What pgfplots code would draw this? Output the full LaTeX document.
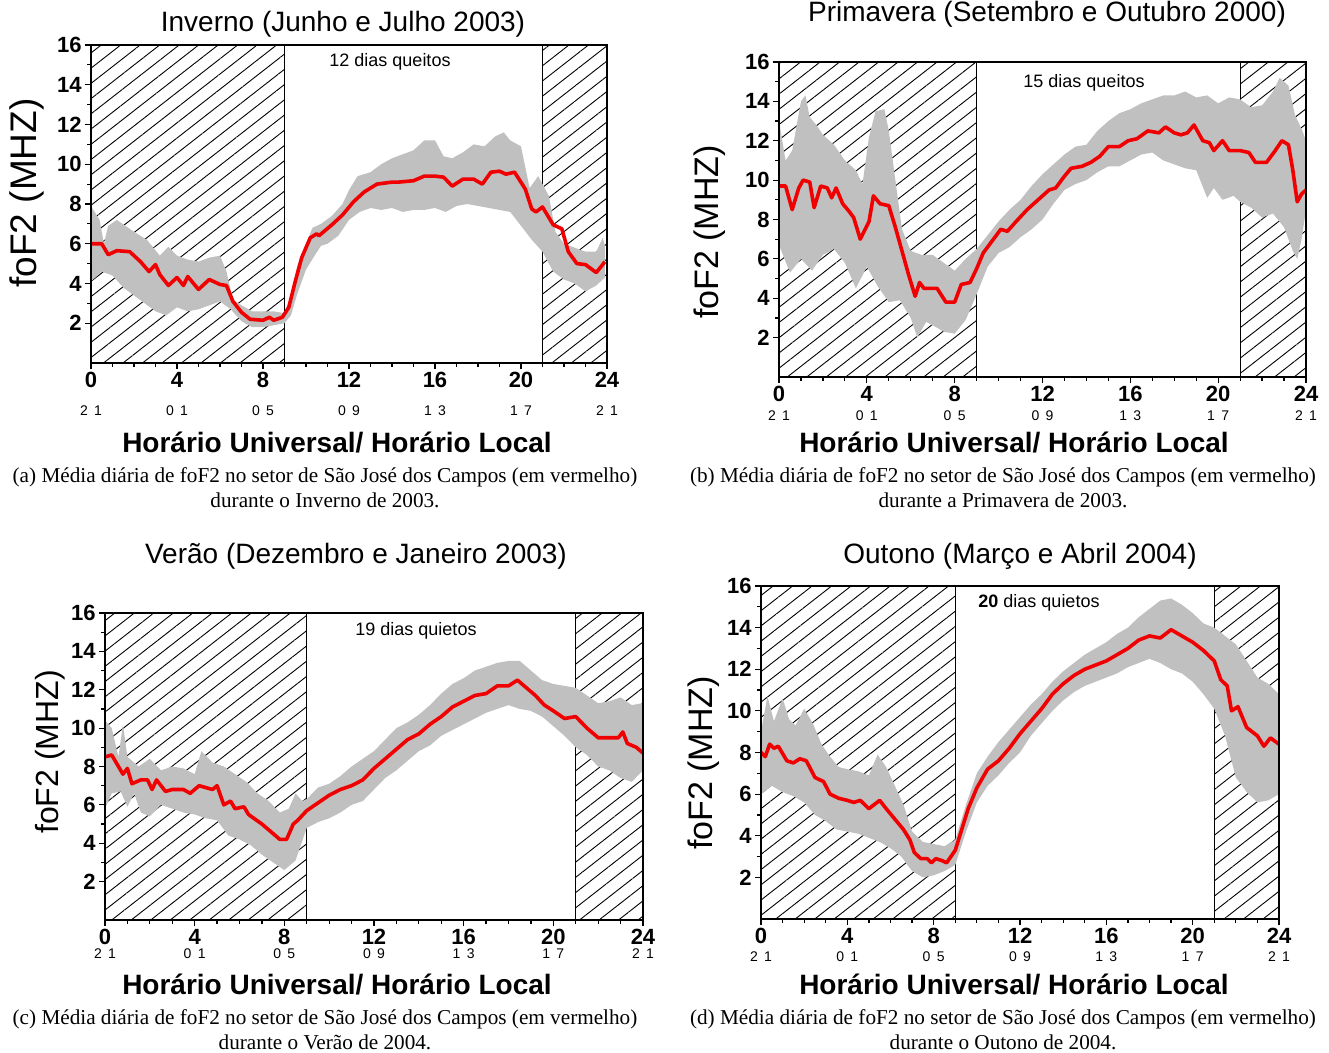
\documentclass[border=0pt]{standalone}
\usepackage{fontspec}
\setmainfont{Liberation Sans}
\newfontfamily\capfont{Liberation Serif}
\usepackage{pgfplots}
\pgfplotsset{compat=1.18}
\usetikzlibrary{patterns.meta}
\definecolor{bandgray}{RGB}{192,192,192}
\definecolor{fred}{RGB}{240,0,0}
\newcommand\lt{\fontsize{7}{8}\selectfont\mdseries}
\pgfplotsset{
 fof/.style={scale only axis, anchor=south west, xmin=0, xmax=24, ymin=0, ymax=16,
   axis on top, tick pos=left, tick align=outside,
   xtick={0,4,...,24}, ytick={2,4,...,16}, minor x tick num=3, minor y tick num=1,
   major tick length=3pt, minor tick length=1.8pt,
   axis line style={line width=0.8pt},
   every tick/.style={black, line width=0.6pt},
   /pgf/number format/assume math mode=true,
   yticklabel style={font=\fontsize{11}{11}\selectfont\bfseries, inner sep=1.5pt},
   xticklabel style={font=\fontsize{11}{11}\selectfont, align=center, inner sep=1.5pt}},
 utlt/.style={xticklabels={
   {\bfseries 0}\\[#1]{\lt 2\hspace{.45em}1},
   {\bfseries 4}\\[#1]{\lt 0\hspace{.45em}1},
   {\bfseries 8}\\[#1]{\lt 0\hspace{.45em}5},
   {\bfseries 12}\\[#1]{\lt 0\hspace{.45em}9},
   {\bfseries 16}\\[#1]{\lt 1\hspace{.45em}3},
   {\bfseries 20}\\[#1]{\lt 1\hspace{.45em}7},
   {\bfseries 24}\\[#1]{\lt 2\hspace{.45em}1}}},
 hatch/.style={draw=black, line width=0.6pt, pattern={Lines[angle=38,distance=6pt,line width=0.45pt]}, pattern color=black},
 band/.style={fill=bandgray, draw=none},
 mean/.style={fred, line width=1.8pt, line join=round}
}
\begin{document}
\begin{tikzpicture}
\useasboundingbox (0,0) rectangle (664.5pt,526.5pt);
% ---------------- (a) Inverno
\begin{axis}[fof, utlt=3pt, at={(45.5pt,345pt)}, width=258pt, height=159pt]
\addplot[hatch] coordinates {(0,0)(9,0)(9,16)(0,16)} -- cycle;
\addplot[hatch] coordinates {(21,0)(24,0)(24,16)(21,16)} -- cycle;
\addplot[band] coordinates {
(0,7.9)(0.4,7.2)(0.6,6.0)(0.8,6.9)(1.2,7.2)(2.0,6.6)(2.6,6.2)(3.2,5.4)(3.6,5.85)(4.0,5.4)(4.5,5.2)(5.0,5.1)(5.5,5.3)(6.0,5.4)(6.3,4.6)(6.6,3.2)(7.0,2.9)(7.5,2.6)(8.0,2.6)(8.5,2.6)(9.0,2.5)(9.3,3.4)(9.6,4.9)(10.0,6.0)(10.3,6.8)(10.7,7.0)(11.2,7.4)(11.7,8.0)(12.0,8.7)(12.4,9.4)(13.0,9.6)(13.5,10.0)(14.0,10.3)(14.5,10.5)(15.0,10.7)(15.5,11.2)(16.0,11.2)(16.4,10.4)(16.8,10.3)(17.3,10.6)(17.8,11.0)(18.3,10.9)(18.8,11.4)(19.2,11.6)(19.5,11.2)(20.0,10.9)(20.4,8.8)(20.8,9.4)(21.0,9.0)(21.3,8.4)(21.6,6.6)(22.0,6.0)(22.5,5.8)(23.0,5.6)(23.5,5.6)(23.8,6.3)(23.9,5.9)
(23.9,4.3)(23.5,3.9)(23.0,3.6)(22.5,4.0)(22.0,4.2)(21.5,4.6)(21.0,5.6)(20.5,6.2)(20.0,6.9)(19.5,7.6)(19.0,7.7)(18.5,7.8)(18.0,7.9)(17.5,8.0)(17.0,7.9)(16.5,7.6)(16.0,7.8)(15.5,7.7)(15.0,7.7)(14.5,7.6)(14.0,7.8)(13.5,7.7)(13.0,7.8)(12.5,7.6)(12.0,7.2)(11.5,6.4)(11.0,6.0)(10.7,5.9)(10.4,5.4)(10.0,4.7)(9.6,3.5)(9.3,2.4)(9.0,2.0)(8.5,1.9)(8.0,1.8)(7.5,1.8)(7.0,2.1)(6.5,2.7)(6.0,3.1)(5.5,2.9)(5.0,2.7)(4.5,2.6)(4.0,2.8)(3.5,2.4)(3.0,2.6)(2.5,3.0)(2.0,3.4)(1.5,3.8)(1.0,4.4)(0.5,4.6)(0,4.1)} -- cycle;
\addplot[mean] coordinates {
(0,6.0)(0.5,6.0)(0.8,5.45)(1.2,5.65)(1.8,5.6)(2.3,5.1)(2.7,4.6)(3.0,4.95)(3.2,4.45)(3.6,3.9)(4.0,4.3)(4.3,3.9)(4.5,4.35)(5.0,3.7)(5.5,4.2)(6.0,3.95)(6.3,3.9)(6.6,3.1)(7.0,2.55)(7.4,2.2)(8.0,2.15)(8.3,2.3)(8.5,2.15)(8.9,2.3)(9.2,2.8)(9.5,4.1)(9.8,5.3)(10.2,6.3)(10.5,6.5)(10.6,6.4)(11.2,6.95)(11.7,7.45)(12.2,8.1)(12.7,8.6)(13.3,9.0)(14.0,9.1)(14.3,9.1)(15.0,9.17)(15.5,9.4)(16.0,9.4)(16.4,9.35)(16.8,8.9)(17.3,9.25)(17.8,9.25)(18.2,9.0)(18.6,9.6)(19.0,9.65)(19.3,9.5)(19.7,9.6)(20.2,8.75)(20.5,7.75)(20.7,7.6)(21.0,7.85)(21.5,6.95)(21.9,6.75)(22.2,5.6)(22.6,5.0)(23.0,4.95)(23.5,4.55)(23.8,4.95)(23.9,5.1)};
\end{axis}
% ---------------- (b) Primavera
\begin{axis}[fof, utlt=-1.5pt, at={(389.5pt,338pt)}, width=263.5pt, height=157.5pt]
\addplot[hatch] coordinates {(0,0)(9,0)(9,16)(0,16)} -- cycle;
\addplot[hatch] coordinates {(21,0)(24,0)(24,16)(21,16)} -- cycle;
\addplot[band] coordinates {
(0,13.0)(0.3,11.0)(0.6,11.5)(1.0,14.0)(1.2,14.3)(1.4,13.2)(1.7,12.8)(2.0,12.3)(2.5,11.8)(3.0,11.0)(3.5,10.5)(3.8,9.8)(4.1,12.2)(4.4,13.5)(4.8,13.6)(5.0,12.5)(5.3,10.0)(5.6,7.5)(6.0,6.4)(6.5,6.2)(7.0,6.2)(7.5,5.8)(8.0,5.4)(8.5,6.0)(9.0,6.5)(9.5,7.2)(10.0,7.9)(10.5,8.5)(11.0,9.0)(11.5,9.7)(12.0,10.3)(12.5,10.8)(13.0,11.3)(13.5,11.7)(14.0,11.8)(14.5,12.5)(15.0,13.0)(15.5,13.4)(16.0,13.6)(16.5,13.9)(17.0,14.1)(17.5,14.3)(18.0,14.3)(18.5,14.5)(19.0,14.2)(19.5,14.3)(20.0,13.9)(20.5,14.2)(21.0,14.1)(21.5,13.7)(22.0,13.8)(22.5,14.5)(22.8,15.2)(23.2,14.8)(23.5,13.3)(23.8,12.6)(24,12.0)
(24,8.5)(23.8,7.0)(23.6,6.0)(23.4,6.4)(23.0,7.6)(22.5,8.3)(22.0,8.1)(21.5,8.6)(21.0,8.9)(20.7,9.2)(20.2,9.0)(19.8,9.6)(19.5,9.1)(19.0,10.5)(18.5,10.6)(18.0,10.8)(17.5,11.0)(17.0,11.4)(16.5,11.3)(16.0,11.0)(15.5,10.7)(15.0,10.7)(14.5,10.4)(14.0,10.0)(13.5,9.8)(13.0,9.5)(12.5,8.8)(12.0,8.0)(11.5,7.5)(11.0,7.1)(10.5,6.6)(10.0,6.3)(9.5,5.6)(9.0,4.2)(8.5,2.9)(8.0,2.2)(7.5,2.3)(7.2,2.5)(6.7,2.8)(6.3,2.0)(6.0,3.0)(5.5,3.9)(5.0,3.8)(4.5,4.6)(4.0,5.6)(3.5,4.5)(3.0,5.8)(2.5,6.5)(2.0,6.2)(1.5,5.4)(1.0,6.0)(0.5,5.3)(0,6.7)} -- cycle;
\addplot[mean] coordinates {
(0,9.7)(0.3,9.7)(0.6,8.5)(0.9,9.6)(1.1,10.0)(1.4,9.9)(1.6,8.6)(1.9,9.7)(2.2,9.6)(2.4,9.1)(2.6,9.6)(2.9,8.8)(3.2,8.4)(3.4,8.1)(3.7,7.0)(4.1,7.9)(4.3,9.2)(4.6,8.8)(5.0,8.7)(5.3,7.6)(5.6,6.4)(5.9,5.2)(6.2,4.1)(6.4,4.8)(6.6,4.5)(7.2,4.5)(7.6,3.8)(8.0,3.8)(8.3,4.7)(8.7,4.8)(9.0,5.5)(9.3,6.3)(9.7,6.9)(10.1,7.5)(10.4,7.4)(10.8,7.9)(11.3,8.5)(11.8,9.0)(12.3,9.5)(12.6,9.6)(13.0,10.2)(13.3,10.6)(13.8,10.7)(14.2,10.9)(14.6,11.2)(15.0,11.7)(15.5,11.7)(15.9,12.0)(16.3,12.1)(16.8,12.5)(17.3,12.4)(17.6,12.7)(18.0,12.4)(18.3,12.3)(18.6,12.4)(18.9,12.8)(19.1,12.4)(19.3,12.0)(19.6,11.9)(19.8,11.5)(20.2,12.0)(20.5,11.5)(21.0,11.5)(21.4,11.4)(21.7,10.9)(22.2,10.9)(22.6,11.5)(22.9,12.0)(23.2,11.8)(23.4,10.5)(23.6,8.9)(23.8,9.3)(24,9.5)};
\end{axis}
% ---------------- (c) Verao
\begin{axis}[fof, utlt=-4pt, at={(52.5pt,66.5pt)}, width=269pt, height=153.5pt]
\addplot[hatch] coordinates {(0,0)(9,0)(9,16)(0,16)} -- cycle;
\addplot[hatch] coordinates {(21,0)(24,0)(24,16)(21,16)} -- cycle;
\addplot[band] coordinates {
(0,10.4)(0.3,10.0)(0.6,8.5)(0.8,10.2)(1.0,8.5)(1.5,8.0)(2.0,8.4)(2.5,7.8)(3.0,8.0)(3.5,7.9)(4.0,7.6)(4.3,8.8)(4.8,8.2)(5.3,8.0)(5.8,7.6)(6.3,7.2)(6.8,6.6)(7.3,6.2)(7.8,5.6)(8.2,5.8)(8.5,6.6)(8.8,6.2)(9.0,6.3)(9.5,6.9)(10.0,7.1)(10.5,7.5)(11.0,8.0)(11.5,8.4)(12.0,8.8)(12.5,9.4)(13.0,10.0)(13.5,10.3)(14.0,10.7)(14.5,11.2)(15.0,11.8)(15.5,12.3)(16.0,12.6)(16.5,13.0)(17.0,13.2)(17.5,13.4)(18.0,13.5)(18.5,13.5)(19.0,13.0)(19.5,12.5)(20.0,12.3)(20.5,12.2)(21.0,12.1)(21.5,11.7)(22.0,11.3)(22.5,11.4)(23.0,11.6)(23.5,11.2)(24,11.3)
(24,7.8)(23.5,7.2)(23.0,7.4)(22.5,7.8)(22.0,8.0)(21.5,8.6)(21.0,9.0)(20.5,9.6)(20.0,10.1)(19.5,10.6)(19.0,10.9)(18.5,11.0)(18.0,11.2)(17.5,11.0)(17.0,10.8)(16.5,10.5)(16.0,10.2)(15.5,9.9)(15.0,9.6)(14.5,9.1)(14.0,8.8)(13.5,8.3)(13.0,7.8)(12.5,7.4)(12.0,6.8)(11.5,6.2)(11.0,6.0)(10.5,5.6)(10.0,5.3)(9.5,5.1)(9.0,4.8)(8.5,3.1)(8.0,2.6)(7.5,3.0)(7.0,3.4)(6.5,3.9)(6.0,4.2)(5.5,4.4)(5.0,5.2)(4.5,5.3)(4.0,5.5)(3.5,5.6)(3.0,5.8)(2.5,6.0)(2.0,5.4)(1.6,5.6)(1.3,6.6)(1.0,5.9)(0.7,6.7)(0.3,6.6)(0,5.8)} -- cycle;
\addplot[mean] coordinates {
(0,8.5)(0.3,8.6)(0.6,8.0)(0.8,7.6)(1.0,7.9)(1.2,7.1)(1.6,7.3)(1.9,7.3)(2.1,6.8)(2.3,7.3)(2.7,6.7)(3.0,6.8)(3.5,6.8)(3.8,6.6)(4.2,7.0)(4.5,6.9)(4.8,6.8)(5.0,7.0)(5.3,6.0)(5.6,6.2)(5.8,5.8)(6.2,5.9)(6.4,5.5)(7.0,5.0)(7.5,4.5)(7.8,4.2)(8.1,4.2)(8.4,5.0)(8.6,5.2)(9.0,5.7)(9.5,6.1)(10.0,6.5)(10.5,6.8)(11.0,7.0)(11.5,7.3)(12.0,7.9)(12.5,8.4)(13.0,8.9)(13.5,9.4)(14.0,9.7)(14.5,10.2)(15.0,10.6)(15.5,11.1)(16.0,11.4)(16.5,11.7)(17.0,11.8)(17.5,12.2)(18.0,12.2)(18.4,12.5)(18.8,12.1)(19.2,11.7)(19.6,11.2)(20.0,10.9)(20.5,10.5)(21.0,10.6)(21.5,10.0)(22.0,9.5)(22.5,9.5)(22.9,9.5)(23.1,9.8)(23.3,9.2)(23.7,9.0)(24,8.7)};
\end{axis}
% ---------------- (d) Outono
\begin{axis}[fof, utlt=-2pt, at={(380.5pt,67pt)}, width=259pt, height=166.5pt]
\addplot[hatch] coordinates {(0,0)(9,0)(9,16)(0,16)} -- cycle;
\addplot[hatch] coordinates {(21,0)(24,0)(24,16)(21,16)} -- cycle;
\addplot[band] coordinates {
(0,9.0)(0.3,10.7)(0.6,9.5)(1.0,10.6)(1.3,9.6)(1.6,9.3)(2.0,10.1)(2.4,9.4)(2.8,8.4)(3.2,7.8)(3.6,7.3)(4.0,7.2)(4.5,7.1)(5.0,6.9)(5.4,7.9)(5.8,7.3)(6.2,6.4)(6.6,5.5)(7.0,4.2)(7.5,3.7)(8.0,3.6)(8.5,3.5)(9.0,3.8)(9.5,5.5)(10.0,7.0)(10.5,7.8)(11.0,8.5)(11.5,9.1)(12.0,9.7)(12.5,10.3)(13.0,10.8)(13.5,11.4)(14.0,11.9)(14.5,12.3)(15.0,12.7)(15.5,13.0)(16.0,13.3)(16.5,13.7)(17.0,14.0)(17.5,14.5)(18.0,14.9)(18.5,15.3)(19.0,15.4)(19.5,15.1)(20.0,14.7)(20.5,14.2)(21.0,14.0)(21.5,13.6)(22.0,13.2)(22.5,12.4)(23.0,11.6)(23.5,11.3)(24,10.8)
(24,6.0)(23.5,5.7)(23.0,5.6)(22.5,6.1)(22.0,6.8)(21.5,8.8)(21.0,10.1)(20.5,10.8)(20.0,11.4)(19.5,11.8)(19.0,12.0)(18.5,12.3)(18.0,12.5)(17.5,12.3)(17.0,12.1)(16.5,11.8)(16.0,11.6)(15.5,11.4)(15.0,11.2)(14.5,10.9)(14.0,10.5)(13.5,10.0)(13.0,9.4)(12.5,8.8)(12.0,8.0)(11.5,7.5)(11.0,6.9)(10.5,6.4)(10.0,5.6)(9.5,4.2)(9.0,2.6)(8.5,2.3)(8.0,2.1)(7.5,2.0)(7.0,2.3)(6.5,3.0)(6.0,3.4)(5.5,3.7)(5.0,3.9)(4.5,4.1)(4.0,4.2)(3.5,4.3)(3.0,4.7)(2.5,5.0)(2.0,5.6)(1.5,5.9)(1.0,6.1)(0.5,6.4)(0,6.0)} -- cycle;
\addplot[mean] coordinates {
(0,8.0)(0.2,7.8)(0.4,8.4)(0.6,8.2)(0.8,8.3)(1.2,7.6)(1.5,7.5)(1.8,7.7)(2.1,7.6)(2.5,6.8)(2.9,6.6)(3.2,6.0)(3.6,5.8)(4.0,5.7)(4.3,5.6)(4.6,5.7)(5.0,5.3)(5.5,5.7)(5.8,5.3)(6.2,4.8)(6.6,4.3)(6.9,3.8)(7.1,3.2)(7.4,2.9)(7.7,2.9)(7.9,2.7)(8.1,2.9)(8.4,2.8)(8.6,2.7)(9.0,3.3)(9.3,4.3)(9.6,5.3)(10.0,6.3)(10.5,7.2)(11.0,7.6)(11.5,8.2)(12.0,8.9)(12.5,9.5)(13.0,10.1)(13.5,10.8)(14.0,11.3)(14.5,11.7)(15.0,12.0)(15.5,12.2)(16.0,12.4)(16.5,12.7)(17.0,13.0)(17.5,13.4)(18.0,13.6)(18.5,13.5)(19.0,13.9)(19.5,13.6)(20.0,13.3)(20.5,12.9)(21.0,12.4)(21.3,11.5)(21.6,11.2)(21.8,10.0)(22.1,10.2)(22.5,9.2)(23.0,8.8)(23.3,8.3)(23.6,8.7)(24,8.4)};
\end{axis}
% ---------------- titles, labels, captions
\begin{scope}[font=\fontsize{14}{14}\selectfont]
\node at (171.5pt,514.5pt) {Inverno (Junho e Julho 2003)};
\node at (523.5pt,519.5pt) {Primavera (Setembro e Outubro 2000)};
\node at (178pt,248.5pt) {Verão (Dezembro e Janeiro 2003)};
\node at (510pt,248.5pt) {Outono (Março e Abril 2004)};
\end{scope}
\node[rotate=90, font=\fontsize{18.5}{18.5}\selectfont] at (13.5pt,430pt) {foF2 (MHZ)};
\node[rotate=90, font=\fontsize{17}{17}\selectfont] at (355pt,410.5pt) {foF2 (MHZ)};
\node[rotate=90, font=\fontsize{16}{16}\selectfont] at (25pt,150.5pt) {foF2 (MHZ)};
\node[rotate=90, font=\fontsize{17}{17}\selectfont] at (352pt,145pt) {foF2 (MHZ)};
\begin{scope}[font=\fontsize{14}{14}\selectfont\bfseries]
\node at (168.5pt,305pt) {Horário Universal/ Horário Local};
\node at (507pt,305pt) {Horário Universal/ Horário Local};
\node at (168.5pt,34pt) {Horário Universal/ Horário Local};
\node at (507pt,34pt) {Horário Universal/ Horário Local};
\end{scope}
\begin{scope}[font=\fontsize{9}{9}\selectfont]
\node at (195pt,495.5pt) {12 dias queitos};
\node at (542pt,485pt) {15 dias queitos};
\node at (208pt,211pt) {19 dias quietos};
\node at (519.5pt,225pt) {\textbf{20} dias quietos};
\end{scope}
\begin{scope}[font=\capfont\fontsize{10.6}{12.5}\selectfont, align=center]
\node at (162.5pt,282.75pt) {(a) Média diária de foF2 no setor de São José dos Campos (em vermelho)\\durante o Inverno de 2003.};
\node at (501.5pt,282.75pt) {(b) Média diária de foF2 no setor de São José dos Campos (em vermelho)\\durante a Primavera de 2003.};
\node at (162.5pt,11.75pt) {(c) Média diária de foF2 no setor de São José dos Campos (em vermelho)\\durante o Verão de 2004.};
\node at (501.5pt,11.75pt) {(d) Média diária de foF2 no setor de São José dos Campos (em vermelho)\\durante o Outono de 2004.};
\end{scope}
\end{tikzpicture}
\end{document}
